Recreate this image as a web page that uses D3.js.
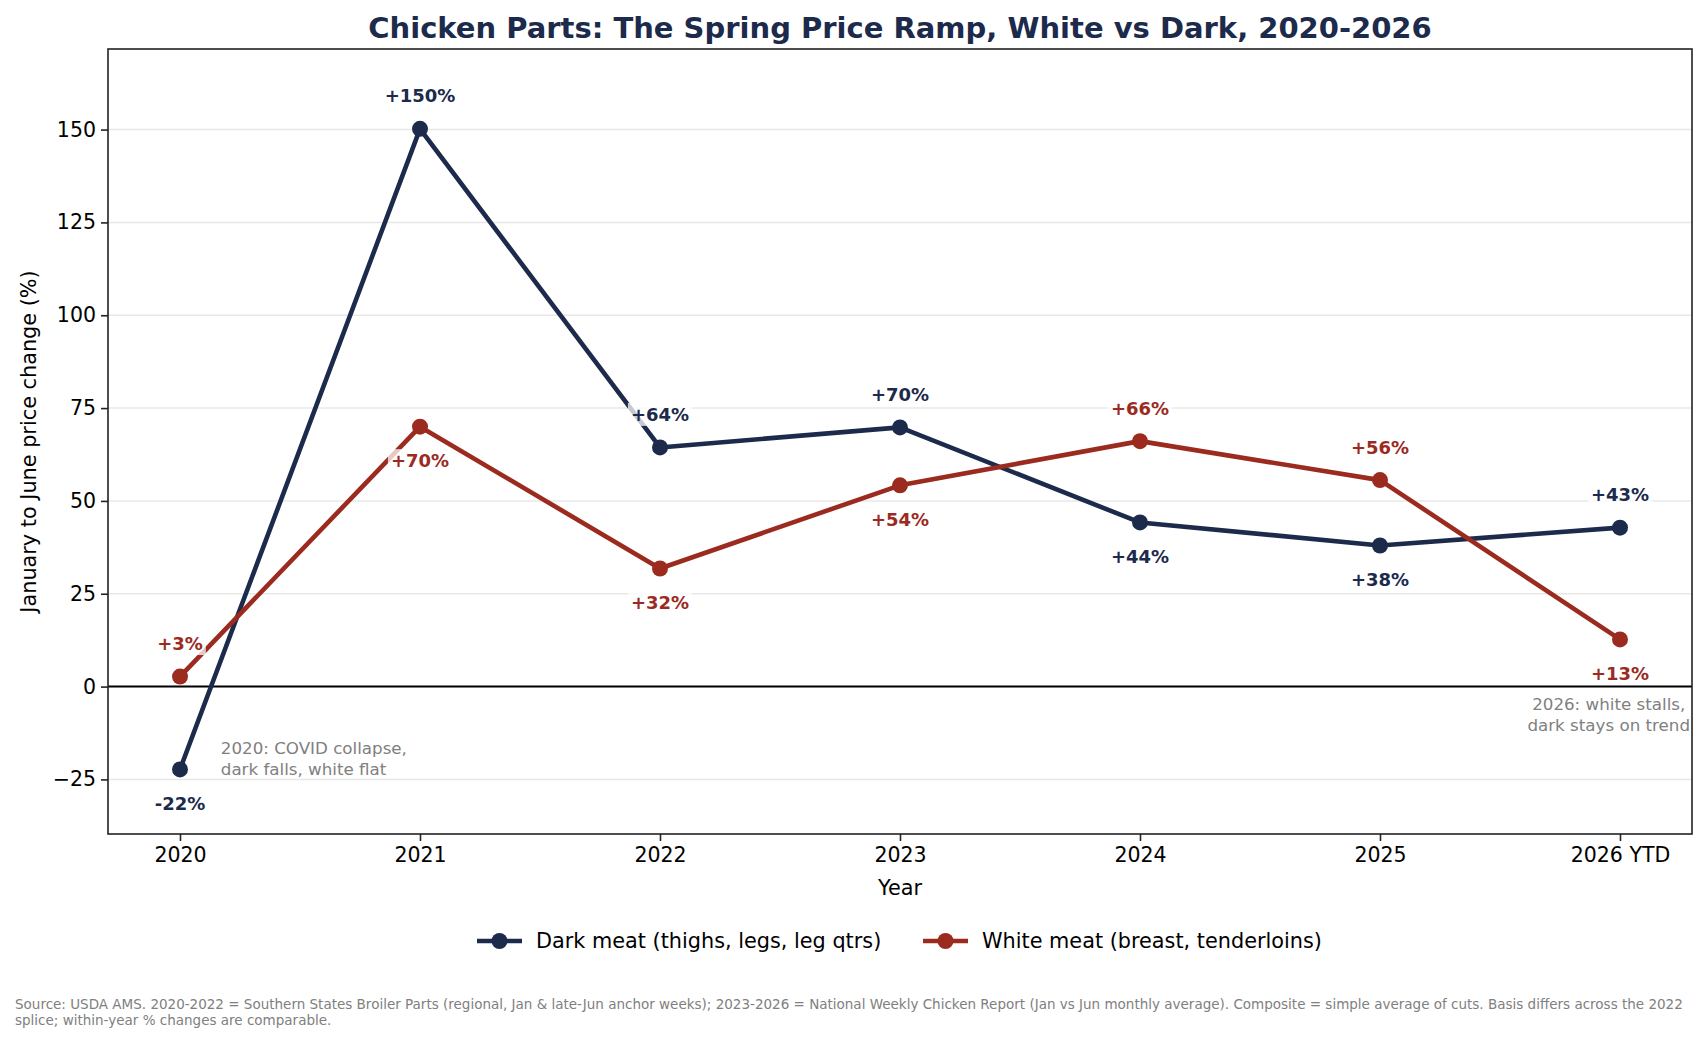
<!DOCTYPE html>
<html lang="en">
<head>
    <meta charset="UTF-8">
    <title>Chicken Parts: The Spring Price Ramp</title>
    <style>
        body {
            margin: 0;
            padding: 0;
            background: #fff;
        }
        text {
            font-family: 'DejaVu Sans', sans-serif;
        }
        .grid line {
            stroke: #e8e8e8;
            stroke-width: 1.5px;
        }
    </style>
</head>
<body>
    <script src="https://d3js.org/d3.v7.min.js"></script>
    <script>
        const width = 1706;
        const height = 1041;

        // data
        const years = ['2020', '2021', '2022', '2023', '2024', '2025', '2026 YTD'];
        const darkMeat = [-22.3, 150.2, 64.4, 69.8, 44.2, 38.0, 42.8];
        const whiteMeat = [2.7, 70.0, 31.8, 54.2, 66.1, 55.6, 12.7];
        const yTicks = [-25, 0, 25, 50, 75, 100, 125, 150];

        const series = [
            {name: 'Dark meat (thighs, legs, leg qtrs)', values: darkMeat, color: '#1c2a4b'},
            {name: 'White meat (breast, tenderloins)', values: whiteMeat, color: '#9b2b1f'}
        ];

        const margin = {top: 49, right: 14, bottom: 207, left: 108};
        const plotW = width - margin.left - margin.right;
        const plotH = height - margin.top - margin.bottom;

        const x = d3.scaleLinear().domain([-0.3, years.length - 0.7]).range([0, plotW]);
        const y = d3.scaleLinear().domain([-39.7, 171.7]).range([plotH, 0]);

        const svg = d3.select('body').append('svg')
            .attr('width', width)
            .attr('height', height);

        const g = svg.append('g').attr('transform', `translate(${margin.left},${margin.top})`);

        // gridlines
        g.append('g').attr('class', 'grid')
            .selectAll('line')
            .data(yTicks)
            .enter().append('line')
            .attr('x1', 0).attr('x2', plotW)
            .attr('y1', d => y(d)).attr('y2', d => y(d));

        // zero line
        g.append('line')
            .attr('x1', 0).attr('x2', plotW)
            .attr('y1', y(0)).attr('y2', y(0))
            .attr('stroke', '#000')
            .attr('stroke-width', 2);

        // axes
        const yAxis = g.append('g')
            .call(d3.axisLeft(y).tickValues(yTicks).tickSize(7).tickPadding(5)
                .tickFormat(d => d < 0 ? '\u2212' + Math.abs(d) : d));
        const xAxis = g.append('g')
            .attr('transform', `translate(0,${plotH})`)
            .call(d3.axisBottom(x).tickValues(d3.range(years.length)).tickSize(7).tickPadding(6)
                .tickFormat(i => years[i]));
        [yAxis, xAxis].forEach(a => {
            a.select('.domain').remove();
            a.selectAll('.tick line').attr('stroke', '#222').attr('stroke-width', 1.6);
            a.selectAll('.tick text').attr('font-size', '20.5px').attr('fill', '#000')
                .attr('font-family', "'DejaVu Sans', sans-serif");
        });

        // frame
        g.append('rect')
            .attr('width', plotW).attr('height', plotH)
            .attr('fill', 'none')
            .attr('stroke', '#222')
            .attr('stroke-width', 1.6);

        // lines and markers
        const line = d3.line().x((d, i) => x(i)).y(d => y(d));
        series.forEach(s => {
            g.append('path')
                .datum(s.values)
                .attr('d', line)
                .attr('fill', 'none')
                .attr('stroke', s.color)
                .attr('stroke-width', 4.6)
                .attr('stroke-linejoin', 'round');
            g.append('g')
                .selectAll('circle')
                .data(s.values)
                .enter().append('circle')
                .attr('cx', (d, i) => x(i))
                .attr('cy', d => y(d))
                .attr('r', 8)
                .attr('fill', s.color);
        });

        // value labels: higher series above, lower below
        const fmt = v => (v >= 0 ? '+' : '-') + Math.round(Math.abs(v)) + '%';
        series.forEach((s, si) => {
            const other = series[1 - si].values;
            s.values.forEach((v, i) => {
                const above = v >= other[i];
                const ly = y(v) + (above ? -33 : 34);
                const lg = g.append('g');
                const t = lg.append('text')
                    .attr('x', x(i))
                    .attr('y', ly)
                    .attr('dy', '0.36em')
                    .attr('text-anchor', 'middle')
                    .attr('font-size', '18px')
                    .attr('font-weight', 'bold')
                    .attr('fill', s.color)
                    .text(fmt(v));
                const bb = t.node().getBBox();
                lg.insert('rect', 'text')
                    .attr('x', bb.x - 3).attr('y', bb.y - 1)
                    .attr('width', bb.width + 6).attr('height', bb.height + 2)
                    .attr('fill', '#fff')
                    .attr('fill-opacity', 0.75);
            });
        });

        // annotations
        const note1 = g.append('text')
            .attr('x', x(0.17)).attr('y', y(-15.5) + 10)
            .attr('font-size', '16.7px')
            .attr('fill', '#808080');
        ['2020: COVID collapse,', 'dark falls, white flat'].forEach((l, i) => {
            note1.append('tspan').attr('x', x(0.17)).attr('dy', i === 0 ? 0 : '1.24em').text(l);
        });
        const note2 = g.append('text')
            .attr('font-size', '16.7px')
            .attr('fill', '#808080')
            .attr('text-anchor', 'middle');
        ['2026: white stalls,', 'dark stays on trend'].forEach((l, i) => {
            note2.append('tspan').attr('x', x(5.953)).attr('y', y(-4.9) + 5.5 + i * 21).text(l);
        });

        // title and axis titles
        svg.append('text')
            .attr('x', margin.left + plotW / 2)
            .attr('y', 38)
            .attr('text-anchor', 'middle')
            .attr('font-size', '29px')
            .attr('font-weight', 'bold')
            .attr('fill', '#1c2a4b')
            .text('Chicken Parts: The Spring Price Ramp, White vs Dark, 2020-2026');

        svg.append('text')
            .attr('x', margin.left + plotW / 2)
            .attr('y', 895)
            .attr('text-anchor', 'middle')
            .attr('font-size', '20.8px')
            .text('Year');

        svg.append('text')
            .attr('transform', `translate(36,${margin.top + plotH / 2}) rotate(-90)`)
            .attr('text-anchor', 'middle')
            .attr('font-size', '20.8px')
            .text('January to June price change (%)');

        // legend
        const legend = svg.append('g').attr('transform', 'translate(0,941)');
        const legendX = [477, 923];
        series.forEach((s, i) => {
            const lg = legend.append('g').attr('transform', `translate(${legendX[i]},0)`);
            lg.append('line')
                .attr('x1', 0).attr('x2', 45)
                .attr('stroke', s.color).attr('stroke-width', 4.6);
            lg.append('circle').attr('cx', 22.5).attr('r', 8).attr('fill', s.color);
            lg.append('text')
                .attr('x', 59).attr('dy', '0.35em')
                .attr('font-size', '20.8px')
                .text(s.name);
        });

        // source note
        const src = svg.append('text')
            .attr('font-size', '13.5px')
            .attr('fill', '#808080');
        ['Source: USDA AMS. 2020-2022 = Southern States Broiler Parts (regional, Jan & late-Jun anchor weeks); 2023-2026 = National Weekly Chicken Report (Jan vs Jun monthly average). Composite = simple average of cuts. Basis differs across the 2022',
         'splice; within-year % changes are comparable.'].forEach((l, i) => {
            src.append('tspan').attr('x', 15).attr('y', 1009 + i * 16.3).text(l);
        });
    </script>
</body>
</html>
